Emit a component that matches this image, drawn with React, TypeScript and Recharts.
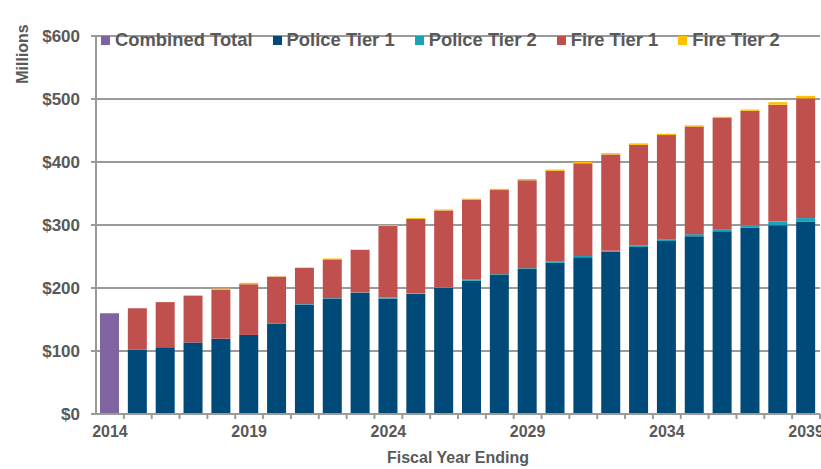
import { Bar, BarChart, CartesianGrid, Label, Legend, XAxis, YAxis } from "recharts";

const years = [
  2014, 2015, 2016, 2017, 2018, 2019, 2020, 2021, 2022, 2023, 2024, 2025, 2026,
  2027, 2028, 2029, 2030, 2031, 2032, 2033, 2034, 2035, 2036, 2037, 2038, 2039,
];

const combinedTotal = [
  160, null, null, null, null, null, null, null, null, null, null, null, null,
  null, null, null, null, null, null, null, null, null, null, null, null, null,
];

const policeTier1 = [
  null, 102, 106, 113.5, 119.5, 125.5, 143.5, 174, 183.5, 192.5, 183.5, 191, 200,
  211.5, 220.5, 230, 240, 249, 257.5, 265, 274.5, 282, 290, 296, 299.5, 305.5,
];

const policeTier2 = [
  null, 0, 0, 0, 0, 0, 1, 0.5, 0.5, 0.5, 1.5, 0.5, 1,
  1.5, 1.5, 1.5, 1.7, 1.8, 1.5, 2.5, 2, 3.5, 3.5, 3.5, 6, 5.5,
];

const fireTier1 = [
  null, 65.7, 71.6, 74, 78, 80.5, 73.5, 57.5, 61.4, 67.5, 113.3, 118, 122.2,
  127.3, 133.4, 139.5, 144.4, 147.2, 153, 159.6, 166.3, 170.7, 176.3, 181.8, 185.5, 190,
];

const fireTier2 = [
  null, 0, 0, 1.2, 1.5, 2.2, 0.5, 0.5, 1.5, 0.5, 1.5, 1.5, 1.5,
  1.5, 2, 2, 2, 2, 2, 2.5, 2, 2, 2, 2, 4, 4,
];

const yTicks = [0, 100, 200, 300, 400, 500, 600];

const series = [
  { key: "combined", name: "Combined Total", color: "#8064A2" },
  { key: "police1", name: "Police Tier 1", color: "#004A7A" },
  { key: "police2", name: "Police Tier 2", color: "#1AA3B8" },
  { key: "fire1", name: "Fire Tier 1", color: "#C0504D" },
  { key: "fire2", name: "Fire Tier 2", color: "#FFC000" },
];

const data = years.map((year, i) => ({
  year,
  combined: combinedTotal[i],
  police1: policeTier1[i],
  police2: policeTier2[i],
  fire1: fireTier1[i],
  fire2: fireTier2[i],
}));

const font = "'Liberation Sans', Arial, sans-serif";
const textColor = "#595959";
const lineColor = "#9a9a9a";

function YearTick(props: any) {
  const { x, y, payload, index } = props;
  const half = payload?.offset || 13.9;
  return (
    <g>
      <line x1={x + half} y1={y} x2={x + half} y2={y + 5} stroke={lineColor} strokeWidth={2} />
      {index % 5 === 0 && (
        <text
          x={x}
          y={y + 23}
          textAnchor="middle"
          fill={textColor}
          fontFamily={font}
          fontWeight="bold"
          fontSize={16}
        >
          {payload.value}
        </text>
      )}
    </g>
  );
}

function LegendContent() {
  return (
    <div style={{ display: "flex", alignItems: "center", fontFamily: font }}>
      {series.map((s) => (
        <div
          key={s.key}
          style={{ display: "flex", alignItems: "center", marginRight: 20 }}
        >
          <span
            style={{
              width: 9,
              height: 9,
              background: s.color,
              marginRight: 5,
              display: "inline-block",
            }}
          />
          <span
            style={{
              fontSize: 18.4,
              fontWeight: "bold",
              color: textColor,
              lineHeight: "20px",
            }}
          >
            {s.name}
          </span>
        </div>
      ))}
    </div>
  );
}

export default function App() {
  return (
    <div style={{ position: "absolute", left: 0, top: 0, width: 821, height: 469, background: "#fff" }}>
      <BarChart
        width={821}
        height={469}
        data={data}
        margin={{ top: 16, right: 1, bottom: 0, left: 0 }}
        barSize={19}
      >
        <CartesianGrid
          vertical={false}
          stroke={lineColor}
          strokeWidth={2}
        />
        <XAxis
          dataKey="year"
          interval={0}
          height={55}
          tickLine={false}
          tickSize={0}
          tickMargin={0}
          axisLine={{ stroke: lineColor, strokeWidth: 2 }}
          tick={<YearTick />}
        >
          <Label
            value="Fiscal Year Ending"
            position="insideBottom"
            offset={6}
            fill={textColor}
            fontFamily={font}
            fontWeight="bold"
            fontSize={16}
          />
        </XAxis>
        <YAxis
          width={96}
          domain={[0, 600]}
          ticks={yTicks}
          tickFormatter={(v: number) => `$${v}`}
          tickSize={5}
          tickMargin={11}
          tickLine={{ stroke: lineColor, strokeWidth: 2 }}
          axisLine={{ stroke: lineColor, strokeWidth: 2 }}
          tick={{ fill: textColor, fontFamily: font, fontWeight: "bold", fontSize: 17 }}
        >
          <Label
            content={() => (
              <text
                x={28}
                y={54}
                transform="rotate(-90 28 54)"
                textAnchor="middle"
                fill={textColor}
                fontFamily={font}
                fontWeight="bold"
                fontSize={16}
              >
                Millions
              </text>
            )}
          />
        </YAxis>
        <Legend
          verticalAlign="top"
          content={<LegendContent />}
          wrapperStyle={{ top: 30, left: 101, width: 720 }}
        />
        {series.map((s) => (
          <Bar
            key={s.key}
            dataKey={s.key}
            name={s.name}
            stackId="a"
            fill={s.color}
            isAnimationActive={false}
          />
        ))}
      </BarChart>
    </div>
  );
}
